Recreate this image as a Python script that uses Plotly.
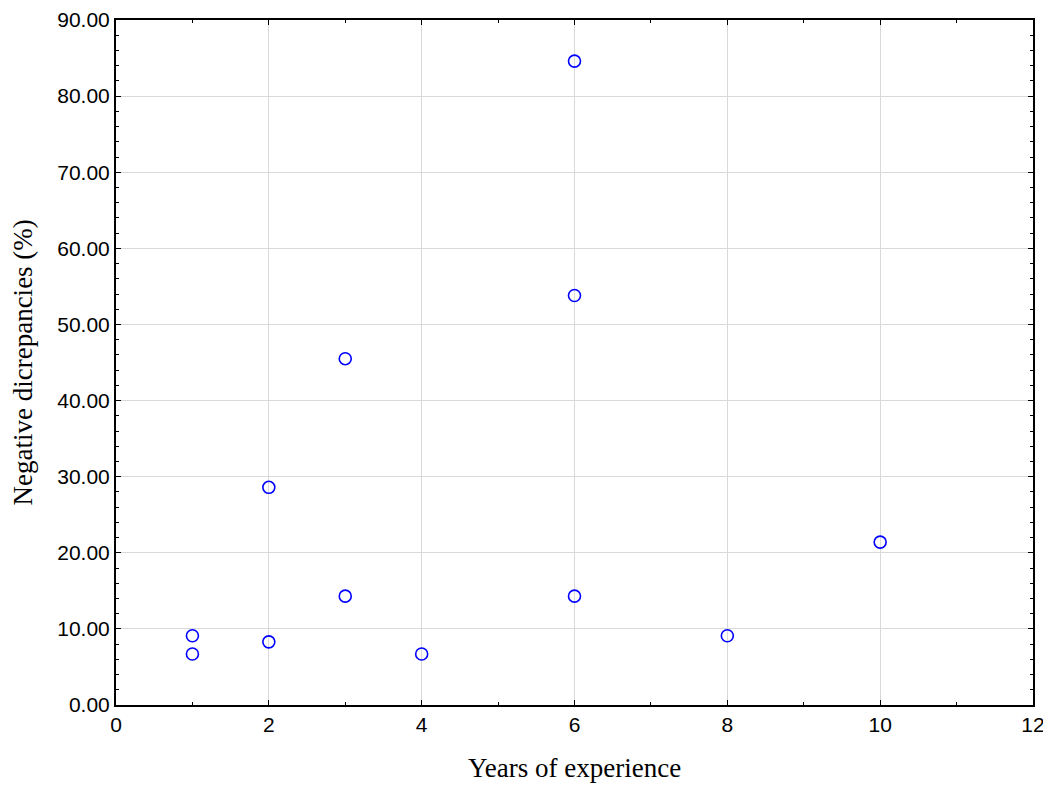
import plotly.graph_objects as go

years = [1, 1, 2, 2, 3, 3, 4, 6, 6, 6, 8, 10]
neg_disc = [9.1, 6.7, 8.3, 28.6, 14.3, 45.5, 6.7, 84.6, 53.8, 14.3, 9.1, 21.4]

fig = go.Figure()
fig.add_trace(go.Scatter(
    x=years, y=neg_disc, mode="markers",
    marker=dict(symbol="circle-open", size=12, color="#0000FF", line=dict(width=1.6, color="#0000FF")),
    showlegend=False,
))

axis_common = dict(
    showline=True, linecolor="black", linewidth=2, mirror="allticks",
    ticks="inside", ticklen=5, tickcolor="black", tickwidth=1,
    showgrid=True, gridcolor="#d9d9d9", gridwidth=1, zeroline=False,
    tickfont=dict(family="Liberation Sans, Arial", size=21, color="black"),
    automargin=False,
)

fig.update_xaxes(
    range=[0, 12], tickmode="linear", tick0=0, dtick=2,
    minor=dict(ticks="inside", ticklen=3, dtick=1, tickcolor="black", showgrid=False),
    **axis_common,
)
fig.update_yaxes(
    range=[0, 90], tickmode="linear", tick0=0, dtick=10, tickformat=".2f",
    minor=dict(ticks="inside", ticklen=3, dtick=2, tickcolor="black", showgrid=False),
    **axis_common,
)

title_font = dict(family="Liberation Serif, Times New Roman", size=27, color="black")
fig.add_annotation(text="Years of experience", xref="paper", yref="paper",
                   x=0.5, y=-0.092, xanchor="center", yanchor="middle",
                   showarrow=False, font=title_font)
fig.add_annotation(text="Negative dicrepancies (%)", xref="paper", yref="paper",
                   x=-0.1025, y=0.5, xanchor="center", yanchor="middle", textangle=-90,
                   showarrow=False, font=title_font)

fig.update_layout(
    width=1043, height=796,
    margin=dict(l=108, r=18, t=12, b=99),
    paper_bgcolor="white", plot_bgcolor="white",
)

fig.write_html("out.html")
